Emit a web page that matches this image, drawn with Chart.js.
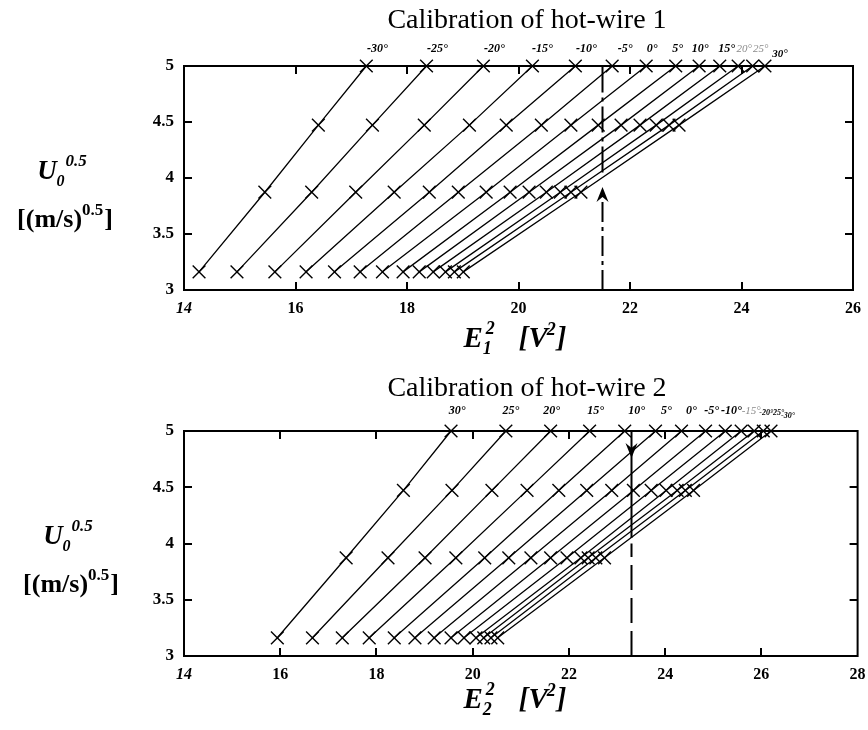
<!DOCTYPE html>
<html><head><meta charset="utf-8">
<script src="https://cdn.jsdelivr.net/npm/chart.js@4.4.1/dist/chart.umd.min.js"></script>
<style>
html,body{margin:0;padding:0;background:#fff;}
#wrap{position:relative;width:868px;height:730px;overflow:hidden;}
canvas{position:absolute;left:0;}
</style></head><body>
<div id="wrap">
<canvas id="c1" width="868" height="365" style="top:0px"></canvas>
<canvas id="c2" width="868" height="365" style="top:365px"></canvas>
</div>
<script>
// ---- shared y values: U0^0.5 for U0 = 10, 15, 20, 25 m/s ----
const uSqrt = [3.162, 3.873, 4.472, 5.0];
const yTicks = [3, 3.5, 4, 4.5, 5];

// ---- hot-wire 1 (E1^2 per yaw angle) ----
const wire1Angles = ['-30°','-25°','-20°','-15°','-10°','-5°','0°','5°','10°','15°','20°','25°','30°'];
const wire1_U10 = [14.27,14.95,15.63,16.19,16.70,17.16,17.56,17.93,18.22,18.47,18.69,18.85,19.01];
const wire1_U15 = [15.45,16.29,17.08,17.77,18.40,18.92,19.42,19.85,20.19,20.50,20.75,20.94,21.12];
const wire1_U20 = [16.41,17.38,18.31,19.12,19.78,20.41,20.94,21.43,21.84,22.18,22.47,22.70,22.88];
const wire1_U25 = [17.27,18.35,19.37,20.25,21.02,21.68,22.29,22.82,23.24,23.61,23.94,24.20,24.42];
const wire1Ticks = [14,16,18,20,22,24,26];
const wire1Marker = 21.5;
const wire1ArrowTip = 3.92;

// ---- hot-wire 2 (E2^2 per yaw angle) ----
const wire2Angles = ['30°','25°','20°','15°','10°','5°','0°','-5°','-10°','-15°','-20°','-25°','-30°'];
const wire2_U10 = [15.94,16.67,17.29,17.85,18.37,18.80,19.20,19.55,19.82,20.07,20.23,20.38,20.52];
const wire2_U15 = [17.37,18.24,19.01,19.65,20.25,20.75,21.21,21.62,21.96,22.25,22.40,22.56,22.74];
const wire2_U20 = [18.56,19.57,20.40,21.13,21.79,22.37,22.89,23.34,23.71,24.02,24.25,24.42,24.59];
const wire2_U25 = [19.55,20.69,21.62,22.43,23.16,23.80,24.34,24.84,25.25,25.58,25.85,26.04,26.20];
const wire2Ticks = [14,16,18,20,22,24,26,28];
const wire2Marker = 23.3;
const wire2ArrowTip = 4.76;

// ---- label styling (not data) ----
const SERIF = '"Liberation Serif", "Times New Roman", serif';
const wire1LabelStyle = ['b','b','b','b','b','b','b','b','b','b','g','g','s'];
const wire1LabelDx = [11,11,11,10,11,13,6,2,1,7,6,8,15];
const wire2LabelStyle = ['b','b','b','b','b','b','b','b','b','g','t','t','t'];
const wire2LabelDx = [6,5,1,6,12,11,10,6,6,10,12,14,17];

function buildDatasets(rows, angles){
  return angles.map((a,i)=>({
    label: a,
    data: uSqrt.map((u,k)=>({x: rows[k][i], y: u})),
    showLine: true,
    borderColor: '#000',
    borderWidth: 1.3,
    pointStyle: 'crossRot',
    pointRadius: 9,
    pointBorderWidth: 1.4,
    pointBorderColor: '#000',
    pointBackgroundColor: '#000',
    tension: 0,
    fill: false,
    clip: false
  }));
}

function layoutRuns(ctx, runs){
  let x = 0, prevStart = 0, prevW = 0;
  const out = [];
  for (const r of runs){
    ctx.font = r.font;
    const w = ctx.measureText(r.t).width;
    let sx;
    if (r.stack){ sx = prevStart + (r.shift||0); x = Math.max(prevStart+prevW, sx+w); }
    else { sx = x + (r.gap||0); x = sx + w; }
    out.push(Object.assign({}, r, {sx}));
    prevStart = sx; prevW = w;
  }
  return {out, width: x};
}
function drawRuns(ctx, runs, cx, base){
  const {out, width} = layoutRuns(ctx, runs);
  const x0 = cx - width/2;
  ctx.textAlign = 'left'; ctx.textBaseline = 'alphabetic'; ctx.fillStyle = '#000';
  for (const r of out){ ctx.font = r.font; ctx.fillText(r.t, x0 + r.sx, base + (r.dy||0)); }
}

function arrowHead(ctx, x, tipY, dir){ // dir = -1 pointing up, +1 pointing down
  const h = 15, w = 6, notch = 5;
  ctx.beginPath();
  ctx.moveTo(x, tipY);
  ctx.lineTo(x - w, tipY - dir*h);
  ctx.lineTo(x, tipY - dir*(h - notch));
  ctx.lineTo(x + w, tipY - dir*h);
  ctx.closePath();
  ctx.fill();
}

function makePlugin(cfg){
  return {
    id: 'deco'+cfg.n,
    beforeDatasetsDraw(chart){
      const {ctx, chartArea: a, scales:{x, y}} = chart;
      ctx.save();
      ctx.strokeStyle = '#000'; ctx.lineWidth = 2;
      ctx.strokeRect(a.left, a.top, a.right-a.left, a.bottom-a.top);
      const L = 8;
      ctx.beginPath();
      cfg.xTicks.forEach(v=>{ if (v<=x.min || v>=x.max) return; const p = Math.round(x.getPixelForValue(v));
        ctx.moveTo(p, a.bottom); ctx.lineTo(p, a.bottom-L); ctx.moveTo(p, a.top); ctx.lineTo(p, a.top+L); });
      yTicks.forEach(v=>{ if (v<=y.min || v>=y.max) return; const p = Math.round(y.getPixelForValue(v));
        ctx.moveTo(a.left, p); ctx.lineTo(a.left+L, p); ctx.moveTo(a.right, p); ctx.lineTo(a.right-L, p); });
      ctx.stroke();
      ctx.restore();
    },
    afterDatasetsDraw(chart){
      const {ctx, chartArea: a, scales:{x, y}} = chart;
      ctx.save();
      ctx.strokeStyle = '#000'; ctx.fillStyle = '#000'; ctx.lineWidth = 2;
      const px = Math.round(x.getPixelForValue(cfg.marker)) + 0.5;
      if (cfg.n === 1){
        const tip = y.getPixelForValue(cfg.arrowTip);
        ctx.setLineDash([20,5,4,5]);
        ctx.beginPath(); ctx.moveTo(px, y.getPixelForValue(3)); ctx.lineTo(px, tip + 13); ctx.stroke();
        ctx.setLineDash([26,5,4,5]);
        ctx.beginPath(); ctx.moveTo(px, y.getPixelForValue(4.05)); ctx.lineTo(px, y.getPixelForValue(5)); ctx.stroke();
        ctx.setLineDash([]);
        arrowHead(ctx, px, tip, -1);
      } else {
        ctx.beginPath(); ctx.moveTo(px, y.getPixelForValue(5)); ctx.lineTo(px, y.getPixelForValue(4.05)); ctx.stroke();
        ctx.setLineDash([25,8]);
        ctx.beginPath(); ctx.moveTo(px, y.getPixelForValue(3)); ctx.lineTo(px, y.getPixelForValue(4.0)); ctx.stroke();
        ctx.setLineDash([]);
        arrowHead(ctx, px, y.getPixelForValue(cfg.arrowTip), 1);
      }
      // angle labels above the top points
      const topRow = cfg.rows[3];
      cfg.angles.forEach((lab,i)=>{
        const st = cfg.styles[i];
        const lx = x.getPixelForValue(topRow[i]) + cfg.dx[i];
        let by = a.top - cfg.labelGap;
        ctx.textAlign = 'center'; ctx.textBaseline = 'alphabetic';
        if (st === 'b'){ ctx.font = 'italic bold 12px '+SERIF; ctx.fillStyle = '#000'; }
        else if (st === 'g'){ ctx.font = 'italic 11px '+SERIF; ctx.fillStyle = '#8a8a8a'; }
        else if (st === 's'){ ctx.font = 'italic bold 11px '+SERIF; ctx.fillStyle = '#000'; by += 5; }
        else { ctx.font = 'italic bold 8px '+SERIF; ctx.fillStyle = '#000'; if (i === cfg.angles.length-1) by += 4; else by += 1; }
        ctx.fillText(lab, lx, by);
      });
      ctx.restore();
    },
    afterDraw(chart){
      const {ctx, chartArea: a} = chart;
      ctx.save();
      ctx.fillStyle = '#000';
      ctx.font = '28px '+SERIF; ctx.textAlign = 'center'; ctx.textBaseline = 'alphabetic';
      ctx.fillText(cfg.title, cfg.titleX, a.top - cfg.titleGap);
      const BI = 'italic bold 29px '+SERIF, BIs = 'italic bold 18px '+SERIF;
      drawRuns(ctx, [
        {t:'E', font:BI},
        {t:cfg.sub, font:BIs, dy:7},
        {t:'2', font:BIs, dy:-13, stack:true, shift:3},
        {t:'[V', font:BI, gap:24},
        {t:'2', font:BIs, dy:-12, gap:-1},
        {t:']', font:BI, gap:1}
      ], cfg.xTitleX, cfg.xTitleBase);
      const B = 'bold 26px '+SERIF, Bs = 'bold 17px '+SERIF;
      drawRuns(ctx, [
        {t:'U', font:'italic bold 27px '+SERIF},
        {t:'0', font:'italic bold 16px '+SERIF, dy:7},
        {t:'0.5', font:'italic bold 17px '+SERIF, dy:-13, gap:1}
      ], cfg.yTitleX, a.top + 113);
      drawRuns(ctx, [
        {t:'[(m/s)', font:B},
        {t:'0.5', font:Bs, dy:-12},
        {t:']', font:B, gap:1}
      ], cfg.yTitleX + 3, a.top + 161);
      ctx.restore();
    }
  };
}

function makeChart(id, cfg){
  const ticksFont = (c)=> (c.index === 0 ? {family: SERIF, size: 16, style:'italic', weight:'bold'} : {family: SERIF, size: 16, weight:'bold'});
  return new Chart(document.getElementById(id), {
    type: 'scatter',
    data: { datasets: buildDatasets(cfg.rows, cfg.angles) },
    options: {
      responsive: false, animation: false, devicePixelRatio: 1,
      layout: { padding: cfg.padding },
      plugins: { legend: {display:false}, tooltip: {enabled:false}, title: {display:false} },
      scales: {
        x: {
          type: 'linear', position: 'bottom', min: cfg.xTicks[0], max: cfg.xTicks[cfg.xTicks.length-1],
          afterBuildTicks: s => { s.ticks = cfg.xTicks.map(v=>({value:v})); },
          afterFit: s => { s.height = 40; s.paddingLeft = 0; s.paddingRight = 0; },
          grid: {display:false, drawTicks:false}, border: {display:false},
          ticks: {color:'#000', padding: 9, font: ticksFont, maxRotation:0, autoSkip:false, callback: v => String(v)}
        },
        y: {
          type: 'linear', min: 3, max: 5,
          afterBuildTicks: s => { s.ticks = yTicks.map(v=>({value:v})); },
          afterFit: s => { s.width = 184; s.paddingTop = 0; s.paddingBottom = 0; },
          grid: {display:false, drawTicks:false}, border: {display:false},
          ticks: {color:'#000', padding: 10, font: {family: SERIF, size: 17, weight:'bold'}, callback: v => String(v)}
        }
      }
    },
    plugins: [makePlugin(cfg)]
  });
}

makeChart('c1', {
  n: 1, rows: [wire1_U10, wire1_U15, wire1_U20, wire1_U25], angles: wire1Angles,
  styles: wire1LabelStyle, dx: wire1LabelDx, xTicks: wire1Ticks,
  marker: wire1Marker, arrowTip: wire1ArrowTip,
  padding: {left:0, right:15, top:66, bottom:35},
  title: 'Calibration of hot-wire 1', titleX: 527, titleGap: 38,
  sub: '1', xTitleX: 515, xTitleBase: 347, yTitleX: 62, labelGap: 14
});
makeChart('c2', {
  n: 2, rows: [wire2_U10, wire2_U15, wire2_U20, wire2_U25], angles: wire2Angles,
  styles: wire2LabelStyle, dx: wire2LabelDx, xTicks: wire2Ticks,
  marker: wire2Marker, arrowTip: wire2ArrowTip,
  padding: {left:0, right:8, top:66, bottom:34},
  title: 'Calibration of hot-wire 2', titleX: 527, titleGap: 35,
  sub: '2', xTitleX: 515, xTitleBase: 343, yTitleX: 68, labelGap: 17
});
</script>
</body></html>
